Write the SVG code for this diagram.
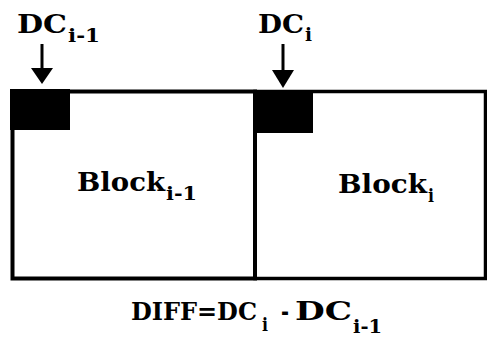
<svg xmlns="http://www.w3.org/2000/svg" width="487" height="340" viewBox="0 0 487 340">
<style>
.t{font-family:"DejaVu Serif","Liberation Serif",serif;font-weight:bold;fill:#000}
.m{font-size:26px}
.s{font-size:18px}
</style>
<rect width="487" height="340" fill="#fff"/>
<g id="block-prev">
<rect x="12.5" y="91.5" width="242.5" height="187" fill="#fff" stroke="#000" stroke-width="4"/>
<rect x="10" y="89" width="60" height="41" fill="#000"/>
<text class="t m" x="77" y="191" textLength="88" lengthAdjust="spacingAndGlyphs">Block</text>
<text class="t s" x="166" y="200" textLength="31" lengthAdjust="spacingAndGlyphs">i-1</text>
</g>
<g id="block-cur">
<rect x="255" y="91.5" width="230.5" height="187" fill="none" stroke="#000" stroke-width="3.5"/>
<rect x="254" y="90" width="59" height="43" fill="#000"/>
<text class="t m" x="338" y="193" textLength="89" lengthAdjust="spacingAndGlyphs">Block</text>
<text class="t s" x="428" y="202" textLength="6" lengthAdjust="spacingAndGlyphs">i</text>
</g>
<g id="label-dc-prev">
<text class="t m" x="17" y="33" textLength="50" lengthAdjust="spacingAndGlyphs">DC</text>
<text class="t s" x="68" y="42" textLength="32" lengthAdjust="spacingAndGlyphs">i-1</text>
</g>
<g id="label-dc-cur">
<text class="t m" x="258" y="33" textLength="46" lengthAdjust="spacingAndGlyphs">DC</text>
<text class="t s" x="305" y="41" textLength="7" lengthAdjust="spacingAndGlyphs">i</text>
</g>
<g id="connectors" fill="none" stroke="#000" stroke-width="3">
<line x1="42" y1="44" x2="42" y2="70"/>
<path d="M31,68 L53,68 L42,84 Z" fill="#000" stroke="none"/>
<line x1="283" y1="44" x2="283" y2="72"/>
<path d="M272,70 L294,70 L283,88 Z" fill="#000" stroke="none"/>
</g>
<g id="formula">
<text class="t" style="font-size:25px" x="131" y="320" textLength="126" lengthAdjust="spacingAndGlyphs">DIFF=DC</text>
<text class="t s" x="262" y="331" textLength="6" lengthAdjust="spacingAndGlyphs">i</text>
<text class="t m" x="281" y="320" textLength="8" lengthAdjust="spacingAndGlyphs">-</text>
<text class="t m" x="295" y="320" textLength="57" lengthAdjust="spacingAndGlyphs">DC</text>
<text class="t s" x="353" y="333" textLength="29" lengthAdjust="spacingAndGlyphs">i-1</text>
</g>
</svg>
